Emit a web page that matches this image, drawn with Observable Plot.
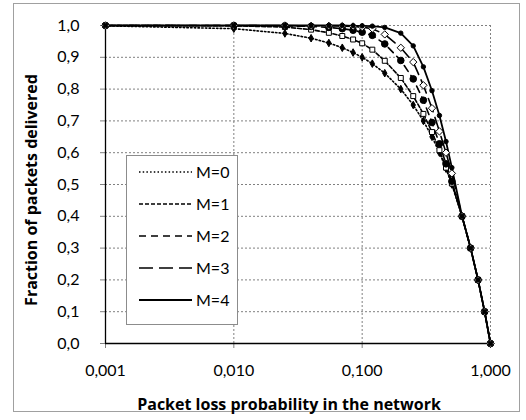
<!DOCTYPE html>
<html><head><meta charset="utf-8">
<script src="https://cdn.jsdelivr.net/npm/d3@7"></script>
<script src="https://cdn.jsdelivr.net/npm/@observablehq/plot@0.6"></script>
<style>
body{margin:0;background:#fff;}
#wrap{position:relative;width:526px;height:420px;font-family:Lato,"Open Sans",sans-serif;overflow:hidden;}
#frame{position:absolute;left:13px;top:3px;width:507px;height:409px;border:1px solid #a0a0a0;box-sizing:border-box;}
#chart{position:absolute;left:0;top:0;}
.lab{position:absolute;font-family:"Open Sans",Lato,sans-serif;font-weight:bold;font-size:16px;white-space:nowrap;color:#000;}
#ylab{left:31px;top:190px;transform:translate(-50%,-50%) rotate(-90deg);}
#xlab{left:289px;top:404px;transform:translate(-50%,-50%);}
#legend{position:absolute;left:126px;top:155px;width:112px;height:170px;border:1px solid #8c8c8c;background:#fff;box-sizing:border-box;}
</style></head>
<body>
<div id="wrap">
<div id="frame"></div>
<div id="chart"></div>
<div class="lab" id="ylab">Fraction of packets delivered</div>
<div class="lab" id="xlab">Packet loss probability in the network</div>
<div id="legend"></div>
</div>
<script>
const lossProb = [0.001, 0.01, 0.025, 0.04, 0.055, 0.07, 0.085, 0.1, 0.12, 0.15, 0.2, 0.25, 0.3, 0.35, 0.4, 0.45, 0.5, 0.6, 0.7, 0.8, 0.9, 1.0];
const seriesNames = ["M=0", "M=1", "M=2", "M=3", "M=4"];
const M0 = [0.999, 0.99, 0.975, 0.96, 0.945, 0.93, 0.915, 0.9, 0.88, 0.85, 0.8, 0.75, 0.7, 0.65, 0.6, 0.55, 0.5, 0.4, 0.3, 0.2, 0.1, 0.0];
const M1 = [1.0, 0.999, 0.995, 0.987, 0.977, 0.967, 0.956, 0.944, 0.924, 0.889, 0.835, 0.778, 0.722, 0.665, 0.608, 0.553, 0.503, 0.4, 0.3, 0.2, 0.1, 0.0];
const M2 = [1.0, 1.0, 0.999, 0.997, 0.994, 0.99, 0.985, 0.979, 0.969, 0.942, 0.89, 0.832, 0.765, 0.695, 0.628, 0.565, 0.51, 0.4, 0.3, 0.2, 0.1, 0.0];
const M3 = [1.0, 1.0, 1.0, 0.999, 0.999, 0.998, 0.997, 0.995, 0.99, 0.972, 0.93, 0.885, 0.812, 0.74, 0.667, 0.6, 0.535, 0.4, 0.3, 0.2, 0.1, 0.0];
const M4 = [1.0, 1.0, 1.0, 1.0, 1.0, 1.0, 0.999, 0.999, 0.998, 0.994, 0.976, 0.936, 0.87, 0.795, 0.717, 0.635, 0.553, 0.4, 0.3, 0.2, 0.1, 0.0];
const xTicks = [0.001, 0.01, 0.1, 1];
const yTicks = [0, 0.1, 0.2, 0.3, 0.4, 0.5, 0.6, 0.7, 0.8, 0.9, 1.0];

const values = [M0, M1, M2, M3, M4];
const styles = [
  {dash: "1.5,2.2", symbol: "diamond", r: 2.3, fill: "#000", width: 1.6},
  {dash: "4,2", symbol: "square", r: 2.8, fill: "#fff", width: 1.6},
  {dash: "7,5", symbol: "circle", r: 3.3, fill: "#000", width: 1.6},
  {dash: "14,6", symbol: "diamond2", r: 3.3, fill: "#fff", width: 1.6},
  {dash: null, symbol: "circle", r: 2.2, fill: "#000", width: 1.8}
];

const fmt = (d, n) => d.toFixed(n).replace(".", ",");
const marks = [
  Plot.gridY(yTicks.slice(1), {stroke: "#808080", strokeOpacity: 1, strokeDasharray: "2,2"}),
  Plot.gridX(xTicks.slice(1), {stroke: "#808080", strokeOpacity: 1, strokeDasharray: "2,2"}),
  Plot.axisY(yTicks, {tickSize: 5, tickPadding: 21, tickFormat: d => fmt(d, 1), stroke: "#808080", fontSize: 16, label: null}),
  Plot.axisX(xTicks, {tickSize: 5, tickPadding: 16, tickFormat: d => fmt(d, 3), stroke: "#808080", fontSize: 16, label: null}),
  Plot.ruleY([0], {stroke: "#000", strokeWidth: 1.3}),
  Plot.ruleX([0.001], {stroke: "#000", strokeWidth: 1.3})
];
seriesNames.forEach((name, k) => {
  const rows = lossProb.map((p, i) => ({p, v: values[k][i], s: name}));
  const st = styles[k];
  marks.push(Plot.line(rows, {x: "p", y: "v", stroke: "#000", strokeWidth: st.width, strokeDasharray: st.dash}));
});
seriesNames.forEach((name, k) => {
  const rows = lossProb.map((p, i) => ({p, v: values[k][i], s: name}));
  const st = styles[k];
  marks.push(Plot.dot(rows, {x: "p", y: "v", symbol: () => st.symbol, r: st.r, fill: st.fill, stroke: "#000", strokeWidth: 1}));
});

const chart = Plot.plot({
  width: 526, height: 420,
  marginLeft: 105, marginRight: 36, marginTop: 25, marginBottom: 77,
  style: {fontFamily: "Lato, 'Open Sans', sans-serif", fontSize: "16px", background: "transparent", color: "#000"},
  x: {type: "log", domain: [0.001, 1]},
  y: {domain: [0, 1]},
  symbol: {type: "identity"},
  marks
});
document.getElementById("chart").appendChild(chart);

// legend
const lg = d3.select("#legend").append("svg").attr("width", 110).attr("height", 168);
seriesNames.forEach((name, k) => {
  const y = 16 + k * 32;
  const st = styles[k];
  lg.append("line").attr("x1", 12).attr("x2", 65).attr("y1", y).attr("y2", y)
    .attr("stroke", "#000").attr("stroke-width", st.width).attr("stroke-dasharray", st.dash);
  lg.append("text").attr("x", 69).attr("y", y).attr("dy", "0.35em")
    .attr("font-family", "Lato, 'Open Sans', sans-serif").attr("font-size", 16).text(name);
});
</script>
</body></html>
